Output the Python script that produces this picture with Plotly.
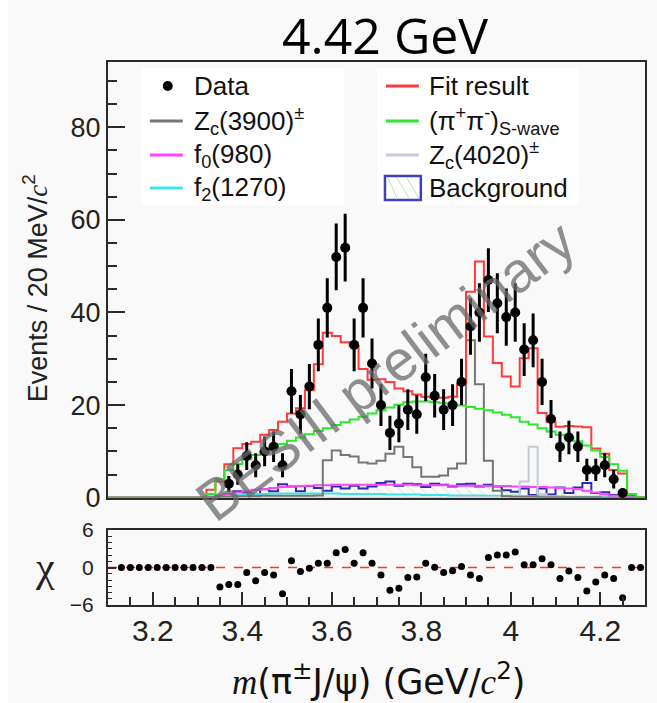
import numpy as np
import plotly.graph_objects as go

# ---------------- data ----------------
# 20 MeV bins from 3.10 to 4.30 GeV; component arrays cover bins 3.31 ... 4.29
bin_lo, bin_hi, bin_w = 3.10, 4.30, 0.02
first_filled_center = 3.31

fit_total = [0, 1.7, 3.5, 7.2, 10.7, 11.6, 12.1, 13.6, 14.6, 16.4,
             18.2, 19.3, 23.2, 28.8, 35.6, 34.9, 33.6, 32.8, 27.8, 25.5,
             25.6, 25.0, 23.6, 23.0, 22.3, 21.8, 21.6, 21.6, 21.8, 24.6,
             44.5, 51.0, 34.8, 29.1, 26.2, 24.0, 30.1, 32.3, 18.3, 16.4,
             15.3, 15.5, 15.4, 15.2, 10.6, 9.5, 6.0, 5.2, 0.6, 0.1]
pipi_swave = [0, 0.8, 4.0, 6.0, 7.3, 8.3, 9.2, 10.0, 10.8, 11.6,
              12.3, 13.0, 13.7, 14.4, 15.0, 15.7, 16.3, 16.9, 17.5, 18.2,
              18.9, 19.5, 20.1, 20.6, 20.8, 20.8, 20.6, 20.4, 20.2, 19.9,
              19.6, 19.2, 18.9, 18.4, 17.9, 17.4, 16.4, 15.8, 15.0, 14.3,
              13.6, 13.0, 12.2, 11.3, 10.2, 8.8, 7.2, 5.8, 0.8, 0.1]
zc3900 = [0, 0.1, 0.2, 0.2, 0.3, 0.3, 0.3, 0.4, 0.4, 0.4,
          0.4, 0.4, 0.4, 0.5, 8.1, 10.2, 9.2, 8.9, 7.6, 7.4,
          8.0, 9.5, 11.0, 8.8, 6.6, 4.5, 4.5, 4.8, 6.3, 7.4,
          34.0, 24.5, 8.0, 1.5, 0.3, 0.2, 0.2, 0.2, 0.1, 0.1,
          0.1, 0.1, 0.1, 0.1, 0.1, 0, 0, 0, 0, 0]
zc4020 = [0, 0, 0, 0, 0, 0, 0, 0, 0, 0,
          0, 0, 0, 0, 0, 0, 0, 0, 0, 0,
          0, 0, 0, 0, 0, 0, 0, 0, 0, 0.1,
          0.1, 0.1, 0.1, 0.1, 0.2, 0.4, 3.5, 11.0, 0.8, 0.2,
          0.1, 0.1, 0, 0, 0, 0, 0, 0, 0, 0]
f0_980 = [0, 0.2, 0.5, 0.8, 1.1, 1.4, 1.7, 1.9, 2.1, 2.3,
          2.4, 2.5, 2.6, 2.7, 2.7, 2.8, 2.8, 2.8, 2.8, 2.8,
          2.8, 2.8, 2.8, 2.8, 2.7, 2.7, 2.7, 2.7, 2.6, 2.6,
          2.6, 2.6, 2.5, 2.5, 2.5, 2.4, 2.4, 2.3, 2.3, 2.2,
          2.1, 2.0, 1.8, 1.5, 1.1, 0.7, 0.4, 0.2, 0.05, 0]
f2_1270 = [0, 0.1, 0.3, 0.5, 0.6, 0.7, 0.8, 0.8, 0.9, 0.9,
           0.9, 0.9, 0.9, 0.9, 0.9, 0.9, 0.8, 0.8, 0.8, 0.8,
           0.8, 0.7, 0.7, 0.7, 0.7, 0.6, 0.6, 0.6, 0.5, 0.5,
           0.5, 0.5, 0.4, 0.4, 0.4, 0.4, 0.3, 0.3, 0.3, 0.3,
           0.3, 0.2, 0.2, 0.2, 0.2, 0.1, 0.1, 0.1, 0, 0]
background = [0, 0.2, 0.4, 0.6, 1.4, 1.1, 0.7, 1.8, 1.4, 2.9,
              2.4, 1.4, 2.5, 2.1, 1.5, 2.4, 2.0, 2.6, 2.0, 2.4,
              3.2, 3.5, 2.6, 3.0, 2.9, 2.3, 3.0, 2.8, 2.4, 2.9,
              3.0, 2.4, 2.8, 2.4, 1.6, 1.3, 2.0, 0.6, 2.0, 0.7,
              2.2, 1.0, 2.2, 3.2, 1.0, 1.2, 0.6, 0.3, 0.1, 0]

# data points (bin centres 3.37 ... 4.25), counts and their errors
data_mass = [3.37, 3.39, 3.41, 3.43, 3.45, 3.47, 3.49, 3.51, 3.53, 3.55,
             3.57, 3.59, 3.61, 3.63, 3.65, 3.67, 3.69, 3.71, 3.73, 3.75,
             3.77, 3.79, 3.81, 3.83, 3.85, 3.87, 3.89, 3.91, 3.93, 3.95,
             3.97, 3.99, 4.01, 4.03, 4.05, 4.07, 4.09, 4.11, 4.13, 4.15,
             4.17, 4.19, 4.21, 4.23, 4.25]
data_counts = [3, 5, 9, 7, 10, 11, 7, 23, 18, 24,
               33, 41, 52, 54, 33, 41, 29, 20, 14, 16,
               19, 18, 26, 22, 19, 20, 25, 37, 40, 47,
               42, 39, 40, 32, 34, 25, 17, 11, 13, 11,
               6, 6, 7, 4, 1]
data_errors = [1.7, 2.2, 3.0, 2.6, 3.2, 3.3, 2.6, 4.8, 4.2, 4.9,
               5.7, 6.4, 7.2, 7.3, 5.7, 6.4, 5.4, 4.5, 3.7, 4.0,
               4.4, 4.2, 5.1, 4.7, 4.4, 4.5, 5.0, 6.1, 6.3, 6.9,
               6.5, 6.2, 6.3, 5.7, 5.8, 5.0, 4.1, 3.3, 3.6, 3.3,
               2.4, 2.4, 2.6, 2.0, 1.0]

# pulls (bin centres 3.13 ... 4.29)
chi_mass = [3.13, 3.15, 3.17, 3.19, 3.21, 3.23, 3.25, 3.27, 3.29, 3.31,
            3.33, 3.35, 3.37, 3.39, 3.41, 3.43, 3.45, 3.47, 3.49, 3.51,
            3.53, 3.55, 3.57, 3.59, 3.61, 3.63, 3.65, 3.67, 3.69, 3.71,
            3.73, 3.75, 3.77, 3.79, 3.81, 3.83, 3.85, 3.87, 3.89, 3.91,
            3.93, 3.95, 3.97, 3.99, 4.01, 4.03, 4.05, 4.07, 4.09, 4.11,
            4.13, 4.15, 4.17, 4.19, 4.21, 4.23, 4.25, 4.27, 4.29]
chi_values = [0, 0, 0, 0, 0, 0, 0, 0, 0, 0,
              0, -3.1, -2.7, -2.7, -0.8, -2.1, -0.8, -1.2, -4.2, 1.1,
              -0.65, -0.1, 0.7, 0.7, 2.35, 2.9, 0.7, 2.35, 0.7, -1.2,
              -3.65, -3.3, -1.6, -1.5, 0.7, 0.05, -0.8, -0.5, 0.15, -1.2,
              -1.75, 1.6, 2.0, 2.0, 2.5, 0.45, 0.45, 1.4, 0.45, -1.75,
              -0.55, -1.6, -3.75, -2.3, -1.2, -1.75, -4.85, 0, 0]

x_ticks = [3.2, 3.4, 3.6, 3.8, 4.0, 4.2]
x_tick_text = ["3.2", "3.4", "3.6", "3.8", "4", "4.2"]
y_ticks = [0, 20, 40, 60, 80]
chi_ticks = [-6, 0, 6]

# ---------------- helpers ----------------
W, H = 657, 703
ML, MR, MT, MB = 108, 10, 62, 98
PW, PH = W - ML - MR, H - MT - MB


def px(x):
    return (x - ML) / PW


def py(y):
    return (H - MB - y) / PH


edges = np.round(np.arange(bin_lo, bin_hi + bin_w / 2, bin_w), 2)
n_bins = len(edges) - 1
n_empty = int(round((first_filled_center - bin_w / 2 - bin_lo) / bin_w))


def step_xy(vals):
    full = [0.0] * n_empty + list(vals)
    full = full + [0.0] * (n_bins - len(full))
    return list(edges), full + [full[-1]]


SANS = "Liberation Sans, Arial, sans-serif"
SERIF = "Liberation Serif, Times New Roman, serif"

C_RED = "#ff3b3b"
C_GREEN = "#2ee62e"
C_ZC3900 = "#767676"
C_ZC4020 = "#c5ccd6"
C_F0 = "#ff44ff"
C_F2 = "#3fe3ea"
C_BKG = "#2b2bb0"

fig = go.Figure()

# ---------------- main panel histograms ----------------
def add_hist(vals, color, width=2.0, **kw):
    xs, ys = step_xy(vals)
    fig.add_trace(go.Scatter(x=xs, y=ys, mode="lines", line_shape="hv",
                             line=dict(color=color, width=width),
                             xaxis="x", yaxis="y", showlegend=False,
                             hoverinfo="skip", **kw))


add_hist(background, C_BKG, fill="tozeroy", fillcolor="rgba(0,0,0,0)",
         fillpattern=dict(shape="\\", fgcolor="#bfe6bf", bgcolor="rgba(0,0,0,0)",
                          size=8, solidity=0.15))
add_hist(f2_1270, C_F2)
add_hist(f0_980, C_F0)
add_hist(zc4020, C_ZC4020)
add_hist(zc3900, C_ZC3900)
add_hist(fit_total, C_RED)
add_hist(pipi_swave, C_GREEN)

fig.add_trace(go.Scatter(
    x=data_mass, y=data_counts, mode="markers",
    marker=dict(color="black", size=10),
    error_y=dict(type="data", array=data_errors, thickness=3, width=0, color="black"),
    xaxis="x", yaxis="y", showlegend=False, hoverinfo="skip"))

# ---------------- pull panel ----------------
fig.add_trace(go.Scatter(
    x=chi_mass, y=chi_values, mode="markers",
    marker=dict(color="black", size=7),
    xaxis="x2", yaxis="y2", showlegend=False, hoverinfo="skip"))

main_bottom = py(497.7)
chi_top = py(530)

axis_common = dict(showline=True, linecolor="#2a2a2a", linewidth=2, mirror=True,
                   showgrid=False, zeroline=False)

fig.update_layout(
    width=W, height=H,
    margin=dict(l=ML, r=MR, t=MT, b=MB),
    paper_bgcolor="#f9f9f9",
    plot_bgcolor="#f9f9f9",
    xaxis=dict(domain=[0, 1], range=[bin_lo, bin_hi], anchor="y",
               showticklabels=False, ticks="", **axis_common),
    yaxis=dict(domain=[main_bottom, 1], range=[0, 94.1], anchor="x",
               tickvals=y_ticks, ticks="inside", ticklen=17, tickwidth=2,
               tickcolor="#2a2a2a",
               minor=dict(dtick=5, ticks="inside", ticklen=9, tickwidth=2,
                          tickcolor="#2a2a2a"),
               tickfont=dict(family=SANS, size=27, color="#222"),
               **axis_common),
    xaxis2=dict(domain=[0, 1], range=[bin_lo, bin_hi], anchor="y2",
                tickvals=x_ticks, ticktext=x_tick_text,
                ticks="inside", ticklen=13, tickwidth=2, tickcolor="#2a2a2a",
                minor=dict(dtick=0.05, tick0=3.1, ticks="inside", ticklen=8,
                           tickwidth=2, tickcolor="#2a2a2a"),
                tickfont=dict(family=SANS, size=30, color="#222"),
                ticklabelstandoff=-2,
                **axis_common),
    yaxis2=dict(domain=[0, chi_top], range=[-6, 6], anchor="x2",
                tickvals=chi_ticks, ticks="inside", ticklen=8, tickwidth=2,
                tickcolor="#2a2a2a",
                minor=dict(dtick=1, ticks="inside", ticklen=4, tickwidth=1,
                           tickcolor="#2a2a2a"),
                tickfont=dict(family=SANS, size=21, color="#222"),
                ticklabelstandoff=8,
                **axis_common),
)

shapes = []
# white strip on the far left of the canvas
shapes.append(dict(type="rect", xref="paper", yref="paper", x0=px(0), x1=px(8),
                   y0=py(H), y1=py(0), fillcolor="white", line=dict(width=0),
                   layer="below"))
# zero line of the pull panel
shapes.append(dict(type="line", xref="x2 domain", yref="y2", x0=0, x1=1, y0=0, y1=0,
                   line=dict(color="#ff3030", width=1.5, dash="dash"), layer="below"))

# ---------------- legend (two boxes) ----------------
for x0, x1 in [(142, 345), (378, 580)]:
    shapes.append(dict(type="rect", xref="paper", yref="paper",
                       x0=px(x0), x1=px(x1), y0=py(205), y1=py(68),
                       fillcolor="white", line=dict(width=0)))

rows = [86, 121, 155, 188]
left_items = [("Data", None),
              ("Z<sub>c</sub>(3900)<sup>±</sup>", C_ZC3900),
              ("f<sub>0</sub>(980)", C_F0),
              ("f<sub>2</sub>(1270)", C_F2)]
right_items = [("Fit result", C_RED),
               ("(π<sup>+</sup>π<sup>-</sup>)<sub>S-wave</sub>", C_GREEN),
               ("Z<sub>c</sub>(4020)<sup>±</sup>", C_ZC4020),
               ("Background", None)]

annotations = []


def legend_text(x, y, text):
    annotations.append(dict(x=px(x), y=py(y), xref="paper", yref="paper",
                            text=text, showarrow=False, xanchor="left",
                            yanchor="middle",
                            font=dict(family=SANS, size=26, color="#111")))


for (label, color), y in zip(left_items, rows):
    if color is None:
        shapes.append(dict(type="circle", xref="paper", yref="paper",
                           x0=px(163), x1=px(173), y0=py(y + 5), y1=py(y - 5),
                           fillcolor="black", line=dict(width=0)))
    else:
        shapes.append(dict(type="line", xref="paper", yref="paper",
                           x0=px(150), x1=px(183), y0=py(y), y1=py(y),
                           line=dict(color=color, width=3)))
    legend_text(192, y, label)

for (label, color), y in zip(right_items, rows):
    if color is None:
        for hx in [(389, 398), (398, 410), (408, 420)]:
            shapes.append(dict(type="line", xref="paper", yref="paper",
                               x0=px(hx[0]), x1=px(hx[1]), y0=py(y - 10), y1=py(y + 10),
                               line=dict(color="#bfe6bf", width=1)))
        shapes.append(dict(type="rect", xref="paper", yref="paper",
                           x0=px(386), x1=px(422), y0=py(y + 12), y1=py(y - 12),
                           line=dict(color="#4040b8", width=2.5),
                           fillcolor="rgba(0,0,0,0)"))
    else:
        shapes.append(dict(type="line", xref="paper", yref="paper",
                           x0=px(387), x1=px(420), y0=py(y), y1=py(y),
                           line=dict(color=color, width=3)))
    legend_text(428, y, label)

# ---------------- titles ----------------
annotations.append(dict(x=px(386), y=py(35), xref="paper", yref="paper",
                        text="4.42 GeV", showarrow=False,
                        xanchor="center", yanchor="middle",
                        font=dict(family="Open Sans, sans-serif", size=50, color="black")))
annotations.append(dict(x=px(35), y=py(288), xref="paper", yref="paper",
                        text="Events / 20 MeV/<span style=\"font-family:'Liberation Serif'\"><i>c</i></span><sup>2</sup>",
                        showarrow=False, textangle=-90,
                        xanchor="center", yanchor="middle",
                        font=dict(family=SANS, size=27, color="#222")))
annotations.append(dict(x=px(45), y=py(567), xref="paper", yref="paper",
                        text="χ", showarrow=False,
                        xanchor="center", yanchor="middle",
                        font=dict(family=SERIF, size=42, color="#222")))
annotations.append(dict(x=px(380), y=py(679), xref="paper", yref="paper",
                        text="<span style=\"font-family:'Liberation Serif'\"><i>m</i></span>(π<sup>±</sup>J/ψ) (GeV/<span style=\"font-family:'Liberation Serif'\"><i>c</i></span><sup>2</sup>)",
                        showarrow=False,
                        xanchor="center", yanchor="middle",
                        font=dict(family="DejaVu Sans, sans-serif", size=35, color="#111")))
# watermark
annotations.append(dict(x=px(387), y=py(370), xref="paper", yref="paper",
                        text="BESIII preliminary", showarrow=False, textangle=-37,
                        xanchor="center", yanchor="middle",
                        font=dict(family=SANS, size=57, color="rgba(105,105,105,0.75)")))

fig.update_layout(shapes=shapes, annotations=annotations)

fig.write_html("out.html")
